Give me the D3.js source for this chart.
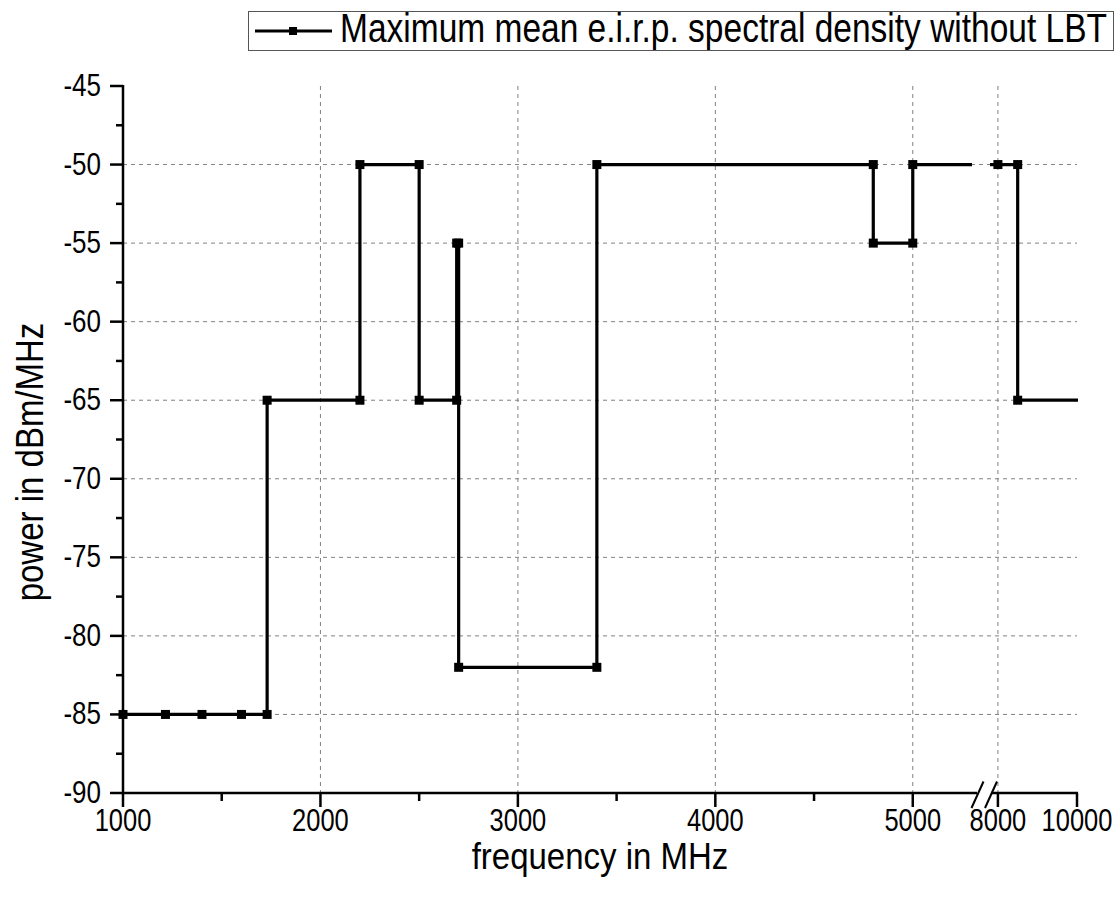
<!DOCTYPE html>
<html lang="en">
<head>
<meta charset="utf-8">
<title>Maximum mean e.i.r.p. spectral density</title>
<script src="https://d3js.org/d3.v7.min.js"></script>
<style>
body { margin: 0; background: #fff; }
text { font-family: "Liberation Sans", Arial, sans-serif; fill: #000; }
.grid line { stroke: #808080; stroke-width: 1; stroke-dasharray: 4,4; }
</style>
</head>
<body>
<div id="chart"></div>
<script>
// step points of the curve (MHz, dBm/MHz)
var freq  = [1000, 1215, 1400, 1600, 1730, 1730, 2200, 2200, 2500, 2500, 2690, 2690,
             2700, 2700, 3400, 3400, 4800, 4800, 5000, 5000, 8000, 8500, 8500, 10600];
var power = [-85, -85, -85, -85, -85, -65, -65, -50, -50, -65, -65, -55,
             -55, -82, -82, -50, -50, -55, -55, -50, -50, -50, -65, -65];

var leftMajor  = [1000, 2000, 3000, 4000, 5000];
var leftMinor  = [1500, 2500, 3500, 4500];
var rightMajor = [8000, 10000];
var yMajor = [-90, -85, -80, -75, -70, -65, -60, -55, -50, -45];
var yMinor = [-87.5, -82.5, -77.5, -72.5, -67.5, -62.5, -57.5, -52.5, -47.5];
var yGrid  = [-85, -80, -75, -70, -65, -60, -55, -50];
var vGridLeft  = [2000, 3000, 4000, 5000];
var vGridRight = [8000];

var seriesName = "Maximum mean e.i.r.p. spectral density without LBT";

(function() {
var W = 1119, H = 900;
var pl = 123, pr = 1077, pt = 86, pb = 793;
var stretch = 1.2; // glyphs in the picture are taller than wide

var svg = d3.select("#chart").append("svg")
  .attr("width", W).attr("height", H);

// broken x axis: two linear pieces
var xL = d3.scaleLinear().domain([1000, 5300]).range([pl, 972]);
var xR = d3.scaleLinear().domain([7800, 10000]).range([990, pr]);
var y  = d3.scaleLinear().domain([-90, -45]).range([pb, pt]);

var data = freq.map(function(f, i) { return {f: f, p: power[i]}; });

function label(g, x, yy, txt, size, anchor, rot, sy) {
  return g.append("text")
    .attr("transform", "translate(" + x + "," + yy + ")" + (rot ? " rotate(-90)" : "") + " scale(1," + (sy || stretch) + ")")
    .attr("text-anchor", anchor || "start")
    .style("font-size", size + "px")
    .text(txt);
}

// grid
var grid = svg.append("g").attr("class", "grid");
grid.selectAll(".hg").data(yGrid).enter().append("line")
  .attr("x1", pl).attr("x2", pr)
  .attr("y1", function(d) { return y(d); }).attr("y2", function(d) { return y(d); });
grid.selectAll(".vgl").data(vGridLeft).enter().append("line")
  .attr("x1", function(d) { return xL(d); }).attr("x2", function(d) { return xL(d); })
  .attr("y1", pt).attr("y2", pb);
grid.selectAll(".vgr").data(vGridRight).enter().append("line")
  .attr("x1", function(d) { return xR(d); }).attr("x2", function(d) { return xR(d); })
  .attr("y1", pt).attr("y2", pb);

// clip regions for each piece of the axis
var defs = svg.append("defs");
defs.append("clipPath").attr("id", "clipL").append("rect")
  .attr("x", pl - 6).attr("y", 0).attr("width", xL.range()[1] - pl + 6).attr("height", H);
defs.append("clipPath").attr("id", "clipR").append("rect")
  .attr("x", xR.range()[0]).attr("y", 0).attr("width", pr - xR.range()[0] + 1).attr("height", H);

function drawPiece(x, clip) {
  var g = svg.append("g").attr("clip-path", "url(#" + clip + ")");
  g.append("path")
    .datum(data)
    .attr("d", d3.line().x(function(d) { return x(d.f); }).y(function(d) { return y(d.p); }))
    .attr("fill", "none").attr("stroke", "#000").attr("stroke-width", 3.2);
  g.selectAll("rect").data(data).enter().append("rect")
    .attr("x", function(d) { return x(d.f) - 4.5; })
    .attr("y", function(d) { return y(d.p) - 4.5; })
    .attr("width", 9).attr("height", 9).attr("fill", "#000");
}
drawPiece(xL, "clipL");
drawPiece(xR, "clipR");

// axes
var ax = svg.append("g").attr("stroke", "#000").attr("stroke-width", 2.5).attr("fill", "none");
ax.append("line").attr("x1", pl).attr("x2", pl).attr("y1", pt - 1).attr("y2", pb + 1);
ax.append("line").attr("x1", pl - 1).attr("x2", 977).attr("y1", pb).attr("y2", pb);
ax.append("line").attr("x1", 991).attr("x2", pr + 1).attr("y1", pb).attr("y2", pb);
// break marks
ax.append("line").attr("x1", 971.5).attr("y1", 808).attr("x2", 983.5).attr("y2", 781.5).attr("stroke-width", 2);
ax.append("line").attr("x1", 985).attr("y1", 808).attr("x2", 997).attr("y2", 781.5).attr("stroke-width", 2);

ax.selectAll(".ymaj").data(yMajor).enter().append("line")
  .attr("x1", pl - 13).attr("x2", pl)
  .attr("y1", function(d) { return y(d); }).attr("y2", function(d) { return y(d); });
ax.selectAll(".ymin").data(yMinor).enter().append("line")
  .attr("x1", pl - 7).attr("x2", pl)
  .attr("y1", function(d) { return y(d); }).attr("y2", function(d) { return y(d); });
ax.selectAll(".xmajL").data(leftMajor).enter().append("line")
  .attr("x1", function(d) { return xL(d); }).attr("x2", function(d) { return xL(d); })
  .attr("y1", pb).attr("y2", pb + 14);
ax.selectAll(".xminL").data(leftMinor).enter().append("line")
  .attr("x1", function(d) { return xL(d); }).attr("x2", function(d) { return xL(d); })
  .attr("y1", pb).attr("y2", pb + 8);
ax.selectAll(".xmajR").data(rightMajor).enter().append("line")
  .attr("x1", function(d) { return xR(d); }).attr("x2", function(d) { return xR(d); })
  .attr("y1", pb).attr("y2", pb + 14);

// tick labels
var tl = svg.append("g");
yMajor.forEach(function(d) { label(tl, pl - 22, y(d) + 10, d, 26, "end"); });
leftMajor.forEach(function(d) { label(tl, xL(d), 831, d, 25.5, "middle"); });
rightMajor.forEach(function(d) { label(tl, xR(d), 831, d, 25.5, "middle"); });

// axis titles
label(svg, (pl + pr) / 2, 869, "frequency in MHz", 33, "middle", false, 1.12);
label(svg, 43, 462, "power in dBm/MHz", 33, "middle", true);

// legend
var lg = svg.append("g");
lg.append("rect").attr("x", 248.5).attr("y", 11.5).attr("width", 865).attr("height", 39)
  .attr("fill", "#fff").attr("stroke", "#555").attr("stroke-width", 1);
lg.append("line").attr("x1", 255).attr("x2", 332).attr("y1", 31).attr("y2", 31)
  .attr("stroke", "#000").attr("stroke-width", 3);
lg.append("rect").attr("x", 289).attr("y", 27).attr("width", 8).attr("height", 8).attr("fill", "#000");
label(lg, 340, 42, seriesName, 33.5, "start");
})();
</script>
</body>
</html>
